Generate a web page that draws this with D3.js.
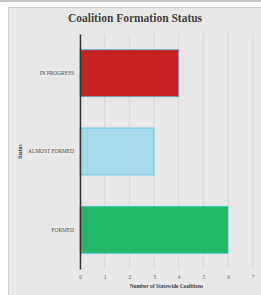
<!DOCTYPE html>
<html>
<head>
<meta charset="utf-8">
<script src="https://cdn.jsdelivr.net/npm/d3@7"></script>
<style>
  html, body { margin: 0; padding: 0; background: #fff; }
  svg { display: block; }
  text { font-family: "Liberation Serif", "DejaVu Serif", serif; }
</style>
</head>
<body>
<div id="chart"></div>
<script>
// data
const categories = ['IN PROGRESS', 'ALMOST FORMED', 'FORMED']
const counts = [4, 3, 6]
const barColors = ['#c62424', '#a4d9e6', '#22b86a']
const xTicks = [0, 1, 2, 3, 4, 5, 6, 7]

const W = 261, H = 295
const margin = {top: 34, right: 8, bottom: 26, left: 80}

const svg = d3.select('#chart').append('svg')
    .attr('width', W)
    .attr('height', H)

// top strip + panel
svg.append('rect')
    .attr('x', 0).attr('y', 0)
    .attr('width', W).attr('height', 2)
    .attr('fill', '#c4c4c4')

svg.append('rect')
    .attr('x', 8.5).attr('y', 7.5)
    .attr('width', W).attr('height', H)
    .attr('fill', '#e8e8e8')
    .attr('stroke', '#d2d2d2')
    .attr('stroke-width', 1)

const x = d3.scaleLinear().domain([0, 7]).range([margin.left, 252.7])
const y = d3.scaleBand().domain(categories)
    .range([margin.top, H - margin.bottom])
    .paddingInner(0.4)
    .paddingOuter(0.2)

// grid
svg.append('g')
    .selectAll('line')
    .data(xTicks)
    .enter()
    .append('line')
        .attr('x1', d => x(d))
        .attr('x2', d => x(d))
        .attr('y1', margin.top)
        .attr('y2', H - margin.bottom)
        .attr('stroke', '#d9d9d9')
        .attr('stroke-width', 1)

// bars
svg.append('g')
    .selectAll('rect')
    .data(categories)
    .enter()
    .append('rect')
        .attr('x', x(0))
        .attr('y', d => y(d))
        .attr('width', (d, i) => x(counts[i]) - x(0))
        .attr('height', y.bandwidth())
        .attr('fill', (d, i) => barColors[i])
        .attr('stroke', '#4cc0e0')
        .attr('stroke-opacity', 0.7)
        .attr('stroke-width', 1)

// y axis
const yAxis = d3.axisLeft(y).tickSize(0).tickPadding(6)
const yAxisGroup = svg.append('g')
    .attr('transform', `translate(${margin.left}, 0)`)
    .call(yAxis)
yAxisGroup.select('.domain').attr('stroke', '#333').attr('stroke-width', 1.5)
yAxisGroup.selectAll('text')
    .attr('font-family', '"Liberation Serif", serif')
    .attr('font-size', 5.4)
    .attr('fill', '#555')

// x axis
const xAxis = d3.axisBottom(x).tickValues(xTicks).tickFormat(d3.format('d')).tickSize(0).tickPadding(6)
const xAxisGroup = svg.append('g')
    .attr('transform', `translate(0, ${H - margin.bottom})`)
    .call(xAxis)
xAxisGroup.select('.domain').remove()
xAxisGroup.selectAll('text')
    .attr('font-family', '"Liberation Serif", serif')
    .attr('font-size', 5.4)
    .attr('fill', '#666')

// titles
svg.append('text')
    .attr('x', 135)
    .attr('y', 22)
    .attr('text-anchor', 'middle')
    .attr('font-size', 11.5)
    .attr('font-weight', 'bold')
    .attr('fill', '#444')
    .text('Coalition Formation Status')

svg.append('text')
    .attr('x', x(3.5))
    .attr('y', 288)
    .attr('text-anchor', 'middle')
    .attr('font-size', 5.4)
    .attr('font-weight', 'bold')
    .attr('fill', '#444')
    .text('Number of Statewide Coalitions')

svg.append('text')
    .attr('transform', `translate(22, ${y('ALMOST FORMED') + y.bandwidth() / 2}) rotate(-90)`)
    .attr('text-anchor', 'middle')
    .attr('font-size', 5.4)
    .attr('font-weight', 'bold')
    .attr('fill', '#444')
    .text('Status')
</script>
</body>
</html>
